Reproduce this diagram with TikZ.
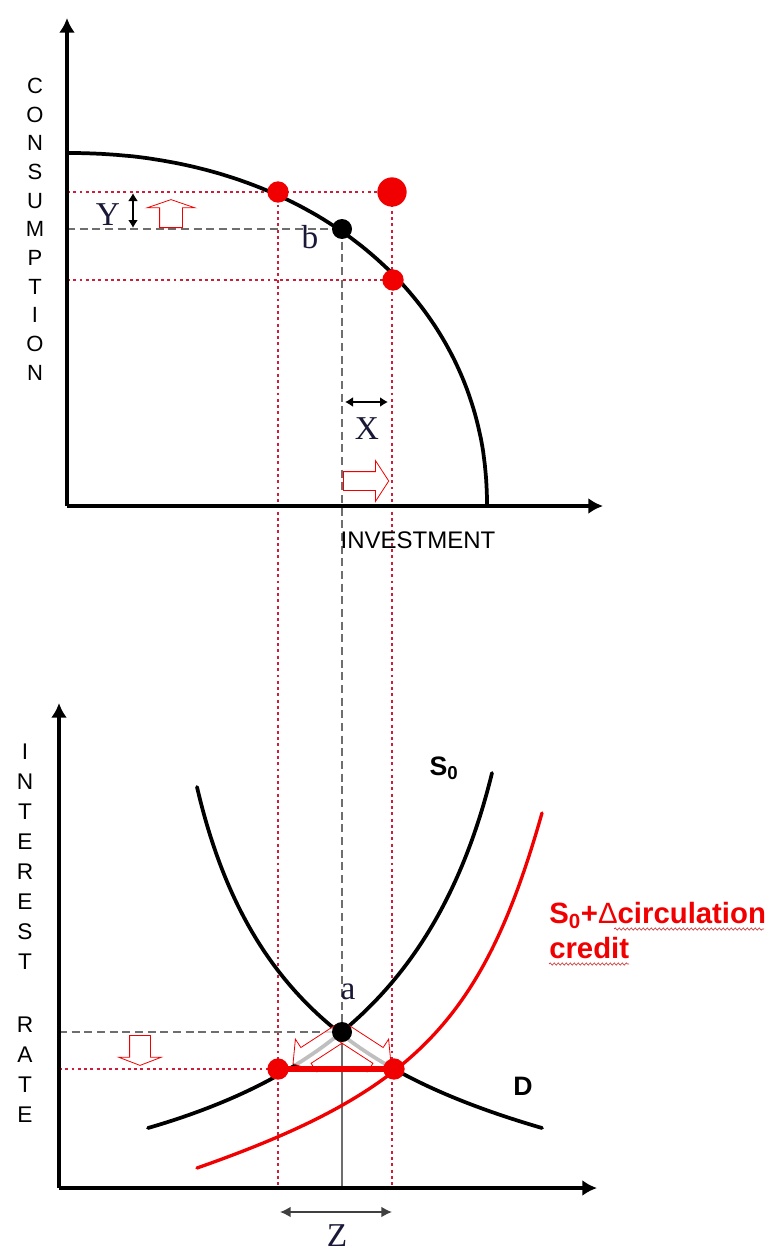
\documentclass[tikz,border=0pt]{standalone}
\usepackage{fontspec}
\setmainfont{Liberation Serif}
\newfontfamily\arialfont{Liberation Sans}
\usetikzlibrary{arrows.meta,shapes.arrows,decorations.pathmorphing}

\definecolor{dotred}{RGB}{205,30,60}
\definecolor{ptred}{RGB}{240,0,0}
\definecolor{labelnavy}{RGB}{25,25,55}
\definecolor{guidegray}{RGB}{110,110,110}

\begin{document}
\begin{tikzpicture}[
    x=0.75pt, y=-0.75pt,
    % Axes and curves
    axis/.style={line width=3pt, -{Latex[length=11pt,width=12pt]}},
    curve/.style={line width=2.8pt, line cap=round},
    % Guide lines
    reddots/.style={dotred, line width=2pt, dash pattern=on 2.2pt off 2.5pt},
    guide/.style={guidegray, line width=0.8pt, dash pattern=on 6pt off 3.5pt},
    % Points on the curves
    pointdot/.style={circle, inner sep=0pt, minimum size=16pt, fill=#1},
    % Hollow block arrows (inner ysep = half the shaft)
    hollow/.style={single arrow, draw=ptred, fill=white, fill opacity=0.75, draw opacity=1,
        line width=0.6pt, inner xsep=0pt, single arrow head indent=0pt, anchor=tail},
    twoway/.style={line width=1.1pt, {Latex[length=6pt,width=7.5pt]}-{Latex[length=6pt,width=7.5pt]}},
    squiggle/.style={red!60!gray, line width=0.5pt, decorate, decoration={snake, amplitude=0.8pt, segment length=3pt}},
    % Texts
    axistitle/.style={font=\arialfont\fontsize{16.5}{21.5}\selectfont, align=center},
    curvelabel/.style={font=\arialfont\bfseries\fontsize{20}{24}\selectfont},
    letter/.style={font=\fontsize{25}{30}\selectfont, text=labelnavy, inner sep=0pt}
]
\useasboundingbox (0,0) rectangle (777,1252);

% Points
\coordinate (O1) at (67,506);   % origin, upper panel
\coordinate (O2) at (59,1188);  % origin, lower panel
\coordinate (b) at (342,229);
\coordinate (a) at (342,1032);
\coordinate (c1) at (278,192);
\coordinate (c2) at (392,192);
\coordinate (c3) at (393,280);
\coordinate (e1) at (278,1069);
\coordinate (e2) at (394,1069);

% Guide lines
\draw[reddots] (c1 -| O1) -- (c2);
\draw[reddots] (c3 -| O1) -- (c3);
\draw[reddots] (c1) -- (c1 |- O2);
\draw[reddots] (c2) -- (c2 |- O2);
\draw[reddots] (e1 -| O2) -- (e1);
\draw[guide] (b -| O1) -- (b);
\draw[guide] (b) -- (a);
\draw[guide] (a -| O2) -- (a);
\draw[guidegray, line width=0.8pt] (a) -- (a |- O2);

% Upper panel: axes and frontier
\draw[axis] (O1) -- (67,18);
\draw[axis] (O1) -- (603,506);
\draw[curve] plot[domain=0.01:89.99, samples=90] ({67+420*cos(\x)^0.952}, {506-353*sin(\x)^0.952});

% Lower panel: axes and curves
\draw[axis] (O2) -- (59,703);
\draw[axis] (O2) -- (597,1188);
\draw[curve] (197,787) .. controls (245,993) and (357,1074) .. (542,1128);   % D
\draw[curve] (148,1128) .. controls (320,1078) and (440,985) .. (492,773);   % S0
\draw[curve, ptred, line width=2.5pt] (197,1168) .. controls (414,1092) and (483,1021) .. (542,813);

% Hollow arrows
\node[hollow, rotate=90, minimum height=21pt, inner ysep=8.25pt, single arrow head extend=9.4pt, single arrow tip angle=142] (upc) at (171,228) {};
\node[hollow, rotate=0, minimum height=34pt, inner ysep=6.75pt, single arrow head extend=8.2pt, single arrow tip angle=114] (rightinv) at (343,481) {};
\node[hollow, rotate=-90, minimum height=22.5pt, inner ysep=7.5pt, single arrow head extend=8.2pt, single arrow tip angle=138] (downrate) at (140,1035) {};
\node[hollow, rotate=213, minimum height=43.5pt, inner ysep=6.75pt, single arrow head extend=7.5pt, single arrow tip angle=103] (leftshift) at (a) {};
\node[hollow, rotate=-33, minimum height=43.5pt, inner ysep=6.75pt, single arrow head extend=7.5pt, single arrow tip angle=103] (rightshift) at (a) {};

% Gap between the two rates
\draw[ptred, line width=5pt] (e1) -- (e2);

% Dots
\node[pointdot=ptred] (P1) at (c1) {};
\node[pointdot=ptred, minimum size=22pt] (P2) at (c2) {};
\node[pointdot=ptred] (P3) at (c3) {};
\node[pointdot=black, minimum size=15pt] (B) at (b) {};
\node[pointdot=black, minimum size=15pt] (A) at (a) {};
\node[pointdot=ptred] (E1) at (e1) {};
\node[pointdot=ptred] (E2) at (e2) {};

% Distance markers
\coordinate (yt) at (133,193);
\coordinate (yb) at (133,228);
\coordinate (xl) at (345,402);
\coordinate (xr) at (388,402);
\coordinate (zl) at (280,1212);
\coordinate (zr) at (392,1212);
\draw[twoway] (yt) -- (yb);
\draw[twoway] (xl) -- (xr);
\draw[twoway, draw=black!75, {Latex[length=8pt,width=8pt]}-{Latex[length=8pt,width=8pt]}] (zl) -- (zr);

% Labels
\node[axistitle] (cons) at (35,229) {C\\O\\N\\S\\U\\M\\P\\T\\I\\O\\N};
\node[axistitle, font=\arialfont\fontsize{17}{22.5}\selectfont] (rate) at (25,933) {I\\N\\T\\E\\R\\E\\S\\T\\[25pt]R\\A\\T\\E};
\node[font=\arialfont\fontsize{18}{22}\selectfont, inner sep=0pt] (invest) at (418,540) {INVESTMENT};
\node[letter] (ylbl) at (108,215) {Y};
\node[letter] (xlbl) at (367,429) {X};
\node[letter] (zlbl) at (337,1236) {Z};
\node[letter] (blbl) at (310,237) {b};
\node[letter] (albl) at (348,992) {a};
\node[curvelabel] (slbl) at (444,768) {S\textsubscript{0}};
\node[curvelabel] (dlbl) at (523,1086) {D};
\node[curvelabel, font=\arialfont\bfseries\fontsize{22}{26}\selectfont, text=ptred, anchor=north west, align=left, inner sep=0pt]
    (credit) at (549,902) {S\textsubscript{0}+{\mdseries Δ}circulation\\credit};
\draw[squiggle] (614,929) -- (764,929);
\draw[squiggle] (549,964) -- (629,964);

\end{tikzpicture}
\end{document}
